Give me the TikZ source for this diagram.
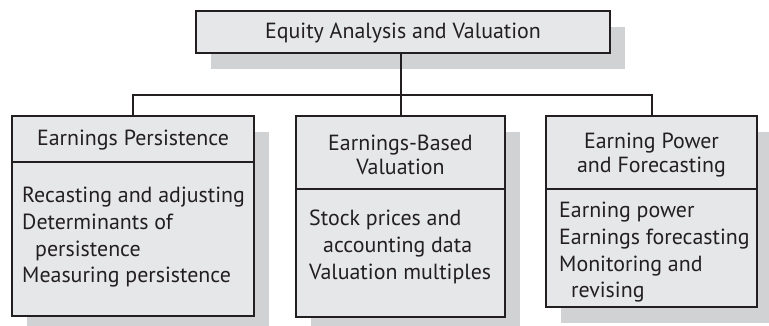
\documentclass[tikz,border=0pt]{standalone}
\usepackage{fontspec}
\setmainfont{PT Sans}
\usetikzlibrary{shadows}
\definecolor{boxfill}{HTML}{E6E7E9}
\definecolor{shadowfill}{HTML}{D1D2D4}
\definecolor{ink}{HTML}{231F20}
\tikzset{
  panel/.style={draw=ink, line width=2pt, fill=boxfill, inner sep=0pt,
    general shadow={fill=shadowfill, shadow xshift=15pt, shadow yshift=-16pt}},
  head/.style={draw=ink, line width=2pt, inner sep=0pt},
  txt/.style={text=ink, font=\fontsize{21.9}{26.7}\selectfont, inner sep=0pt, align=left},
  htxt/.style={text=ink, font=\fontsize{21.9}{24.5}\selectfont, inner sep=0pt, align=center},
  conn/.style={draw=ink, line width=2pt}
}
\begin{document}
\begin{tikzpicture}[x=1pt,y=-1pt]
\useasboundingbox (0,0) rectangle (769,326);
% top
\node[panel, minimum width=414pt, minimum height=42pt] (top) at (403,32) {};
\node[htxt] (toptxt) at (403,33) {Equity Analysis and Valuation};
% left
\node[panel, minimum width=242pt, minimum height=200pt] (b1) at (133,216) {};
\node[head, minimum width=242pt, minimum height=46pt, anchor=north] (h1) at (b1.north) {};
\node[htxt] (h1t) at (133,140) {Earnings Persistence};
\node[txt, anchor=north west] (t1) at (22,187) {Recasting and adjusting\\Determinants of\\\hspace*{13pt}persistence\\Measuring persistence};
% middle
\node[panel, minimum width=209pt, minimum height=201pt] (b2) at (400.5,216.5) {};
\node[head, minimum width=209pt, minimum height=73pt, anchor=north] (h2) at (b2.north) {};
\node[htxt] (h2t) at (400.5,155) {Earnings-Based\\Valuation};
\node[txt, anchor=north west] (t2) at (309,210) {Stock prices and\\\hspace*{14pt}accounting data\\Valuation multiples};
% right
\node[panel, minimum width=211pt, minimum height=191pt] (b3) at (651.5,211.5) {};
\node[head, minimum width=211pt, minimum height=73pt, anchor=north] (h3) at (b3.north) {};
\node[htxt] (h3t) at (651.5,155) {Earning Power\\and Forecasting};
\node[txt, anchor=north west] (t3) at (559,202) {Earning power\\Earnings forecasting\\Monitoring and\\\hspace*{12pt}revising};
% connectors
\draw[conn] (b2.north |- top.south) -- (b2.north);
\draw[conn] (b1.north) -- ++(0,-20) -| (b3.north);
\end{tikzpicture}
\end{document}
